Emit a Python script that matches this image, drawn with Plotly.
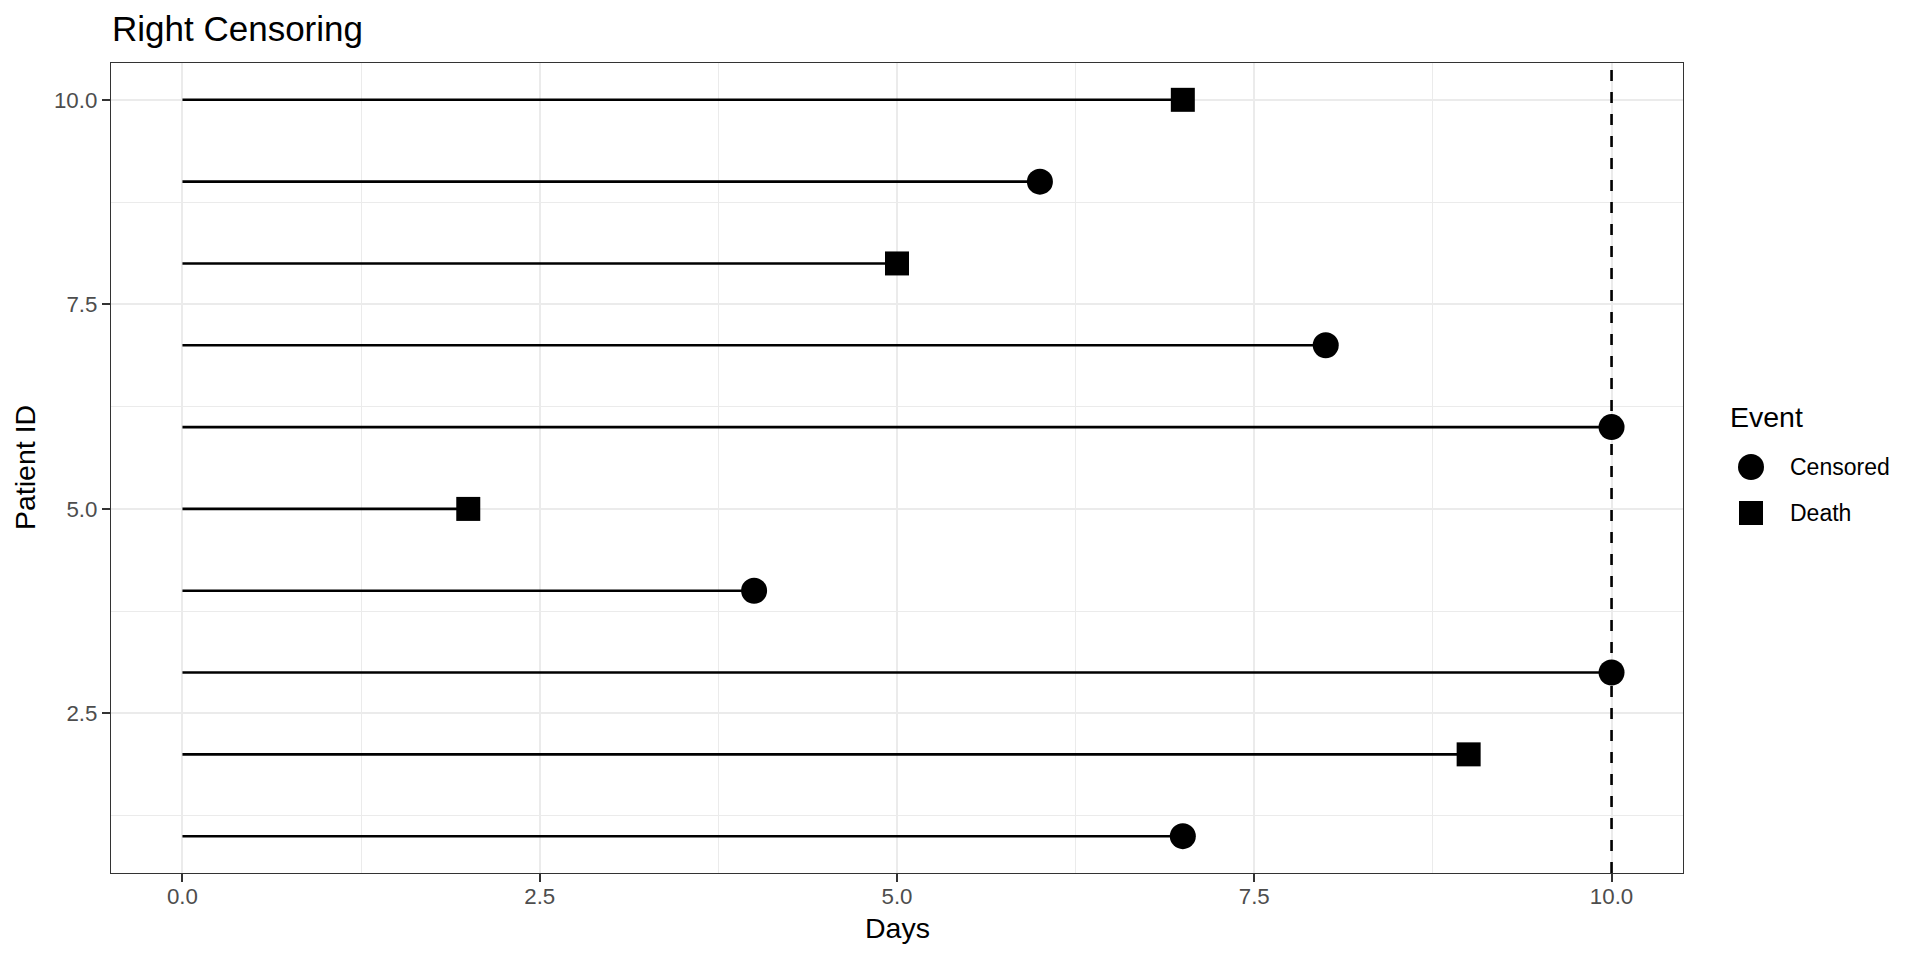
import plotly.graph_objects as go

# ---- data ----
patient_id = [1, 2, 3, 4, 5, 6, 7, 8, 9, 10]
days = [7, 9, 10, 4, 2, 10, 8, 5, 6, 7]
event = ["Censored", "Death", "Censored", "Censored", "Death",
         "Censored", "Censored", "Death", "Censored", "Death"]
study_end = 10
x_ticks = [0.0, 2.5, 5.0, 7.5, 10.0]
y_ticks = [2.5, 5.0, 7.5, 10.0]
event_levels = ["Censored", "Death"]
event_symbols = {"Censored": "circle", "Death": "square"}
event_sizes = {"Censored": 26, "Death": 24}

# ---- layout geometry (pixels) ----
W, H = 1920, 960
L, R, T, B = 111, 1683, 63, 873
PW, PH = R - L, B - T


def px(x):
    return (x - L) / PW


def py(y):
    return (B - y) / PH


FONT = "Liberation Sans, Arial, sans-serif"

fig = go.Figure()

# segments
seg_x, seg_y = [], []
for pid, d in zip(patient_id, days):
    seg_x += [0, d, None]
    seg_y += [pid, pid, None]
fig.add_trace(go.Scatter(x=seg_x, y=seg_y, mode="lines",
                         line=dict(color="black", width=2.6),
                         showlegend=False, hoverinfo="skip"))

# points
for lev in event_levels:
    xs = [d for d, e in zip(days, event) if e == lev]
    ys = [p for p, e in zip(patient_id, event) if e == lev]
    fig.add_trace(go.Scatter(x=xs, y=ys, mode="markers", name=lev,
                             marker=dict(symbol=event_symbols[lev],
                                         size=event_sizes[lev],
                                         color="black", line=dict(width=0)),
                             showlegend=False))

# study end dashed line
fig.add_shape(type="line", xref="x", yref="paper", x0=study_end, x1=study_end,
              y0=0, y1=1, line=dict(color="black", width=2.6, dash="11px,11px"))

# manual legend
annotations = []
annotations.append(dict(text="Event", xref="paper", yref="paper",
                        x=px(1728), y=py(417), xanchor="left", yanchor="middle",
                        showarrow=False, font=dict(size=28.5, color="black", family=FONT)))
leg_y = {"Censored": 467, "Death": 513}
for lev in event_levels:
    cy = leg_y[lev]
    cx = 1751
    r = event_sizes[lev] / 2
    fig.add_shape(type="circle" if lev == "Censored" else "rect",
                  xref="paper", yref="paper",
                  x0=px(cx - r), x1=px(cx + r), y0=py(cy + r), y1=py(cy - r),
                  fillcolor="black", line=dict(width=0))
    annotations.append(dict(text=lev, xref="paper", yref="paper",
                            x=px(1788), y=py(cy), xanchor="left", yanchor="middle",
                            showarrow=False, font=dict(size=23, color="black", family=FONT)))

# titles
annotations.append(dict(text="Right Censoring", xref="paper", yref="paper",
                        x=px(110), y=py(29), xanchor="left", yanchor="middle",
                        showarrow=False, font=dict(size=35, color="black", family=FONT)))
annotations.append(dict(text="Days", xref="paper", yref="paper",
                        x=0.5, y=py(928), xanchor="center", yanchor="middle",
                        showarrow=False, font=dict(size=28.5, color="black", family=FONT)))
annotations.append(dict(text="Patient ID", xref="paper", yref="paper",
                        x=px(25), y=0.5, xanchor="center", yanchor="middle",
                        textangle=-90,
                        showarrow=False, font=dict(size=28.5, color="black", family=FONT)))

axis_common = dict(
    showline=True, linecolor="#333333", linewidth=1.3, mirror=True,
    ticks="outside", ticklen=8, tickwidth=1.6, tickcolor="#333333",
    tickfont=dict(size=22.3, color="#4D4D4D", family=FONT),
    showgrid=True, gridcolor="#EBEBEB", gridwidth=2,
    zeroline=False,
)

fig.update_layout(
    width=W, height=H,
    margin=dict(l=L, r=W - R, t=T, b=H - B),
    paper_bgcolor="white", plot_bgcolor="white",
    annotations=annotations,
    xaxis=dict(range=[-0.5, 10.5], tickvals=x_ticks,
               ticktext=[f"{v:.1f}" for v in x_ticks],
               ticklabelstandoff=-5,
               minor=dict(tick0=1.25, dtick=2.5, showgrid=True,
                          gridcolor="#EBEBEB", gridwidth=1, ticks=""),
               **axis_common),
    yaxis=dict(range=[0.55, 10.45], tickvals=y_ticks,
               ticktext=[f"{v:.1f}" for v in y_ticks],
               minor=dict(tick0=1.25, dtick=2.5, showgrid=True,
                          gridcolor="#EBEBEB", gridwidth=1, ticks=""),
               **axis_common),
    font=dict(family=FONT),
)

fig.write_html("out.html",
               config={"displayModeBar": False},
               post_script="document.body.style.margin='0px';"
                           "document.body.style.overflow='hidden';")
